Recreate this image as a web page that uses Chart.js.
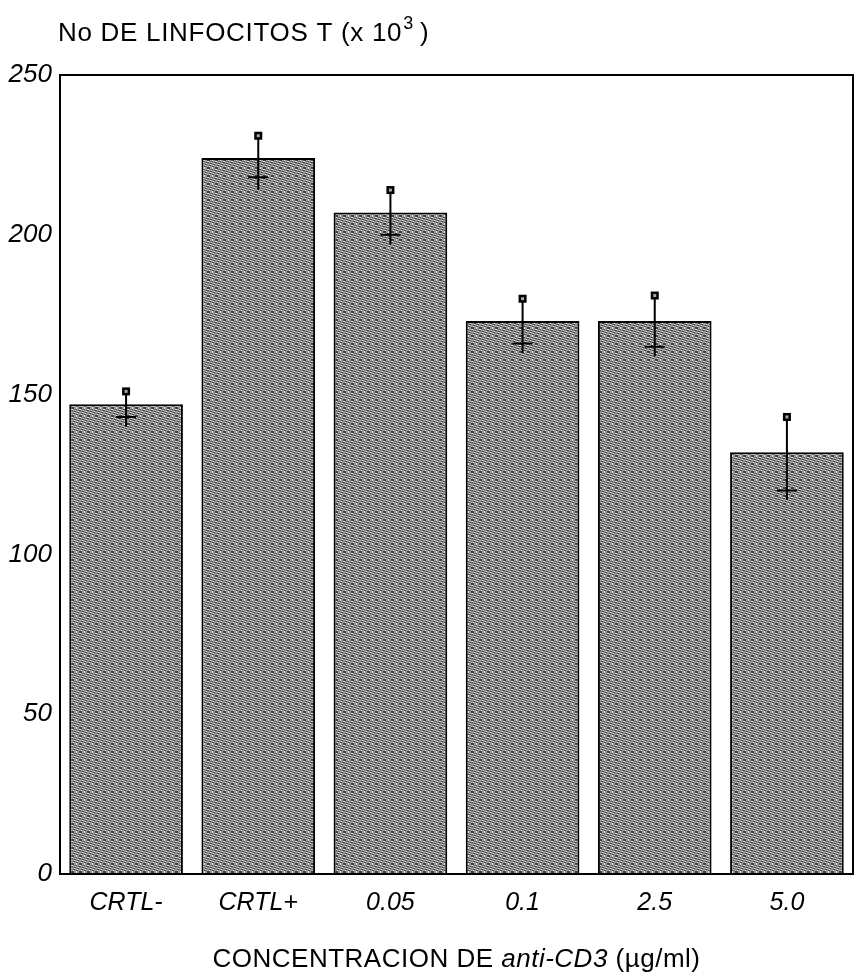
<!DOCTYPE html>
<html>
<head>
<meta charset="utf-8">
<script src="https://cdn.jsdelivr.net/npm/chart.js@4"></script>
<style>
  body { margin: 0; background: #fff; }
  canvas { display: block; }
</style>
</head>
<body>
<canvas id="linfocitos_chart" width="858" height="974"></canvas>
<script>
// valores (x 10^3)
var categorias = ['CRTL-', 'CRTL+', '0.05', '0.1', '2.5', '5.0'];
var linfocitos = [147, 224, 207, 173, 173, 132];
var error_sup = [151, 231, 214, 180, 181, 143];
var marca_cruz = [143, 218, 200, 166, 165, 120];
var error_inf = [140, 214, 197, 163, 162, 117];
var ticks_y = [0, 50, 100, 150, 200, 250];

var fuente = 'Arial, "Liberation Sans", sans-serif';

// textura gris tipo trama de impresion
function tramaGris() {
    var c = document.createElement('canvas');
    c.width = 8; c.height = 8;
    var g = c.getContext('2d');
    g.fillStyle = '#979797';
    g.fillRect(0, 0, 8, 8);
    for (var y = 0; y < 8; y++) {
        for (var x = 0; x < 8; x++) {
            var k = (x * 3 + y * 5) % 7;
            if (k === 0 || k === 3) { g.fillStyle = '#3c3c3c'; g.fillRect(x, y, 1, 1); }
            else if (k === 5) { g.fillStyle = '#eaeaea'; g.fillRect(x, y, 1, 1); }
        }
    }
    return g.createPattern(c, 'repeat');
}

const marcoYTextos = {
    id: 'marcoYTextos',
    afterDraw(chart) {
        const ctx = chart.ctx;
        const a = chart.chartArea;
        ctx.save();
        ctx.strokeStyle = '#000';
        ctx.lineWidth = 2;
        ctx.strokeRect(a.left, a.top, a.right - a.left, a.bottom - a.top);

        // titulo superior con superindice
        ctx.fillStyle = '#000';
        ctx.textBaseline = 'alphabetic';
        ctx.textAlign = 'left';
        ctx.letterSpacing = '0.7px';
        ctx.font = '26px ' + fuente;
        var t1 = 'No DE LINFOCITOS T (x 10';
        var x = a.left - 2;
        ctx.fillText(t1, x, 41);
        x += ctx.measureText(t1).width + 1;
        ctx.font = '18px ' + fuente;
        ctx.fillText('3', x, 29);
        x += ctx.measureText('3').width + 6;
        ctx.font = '26px ' + fuente;
        ctx.fillText(')', x, 41);

        // titulo eje x con parte en cursiva
        ctx.letterSpacing = '0.5px';
        var partes = [
            ['CONCENTRACION DE ', '26px ' + fuente],
            ['anti-CD3', 'italic 26px ' + fuente],
            [' (\u00b5g/ml)', '26px ' + fuente]
        ];
        var total = 0;
        partes.forEach(function (p) { ctx.font = p[1]; total += ctx.measureText(p[0]).width; });
        var px = (a.left + a.right) / 2 - total / 2;
        partes.forEach(function (p) {
            ctx.font = p[1];
            ctx.fillText(p[0], px, 967);
            px += ctx.measureText(p[0]).width;
        });
        ctx.restore();
    }
};

const barrasError = {
    id: 'barrasError',
    afterDatasetsDraw(chart) {
        const ctx = chart.ctx;
        const yScale = chart.scales.y;
        const meta = chart.getDatasetMeta(0);
        ctx.save();
        ctx.strokeStyle = '#000';
        ctx.lineWidth = 2;
        meta.data.forEach(function (bar, i) {
            var cx = bar.x;
            var yTop = yScale.getPixelForValue(error_sup[i]);
            var yLow = yScale.getPixelForValue(error_inf[i]);
            var yCruz = yScale.getPixelForValue(marca_cruz[i]);
            ctx.beginPath();
            ctx.moveTo(cx, yTop);
            ctx.lineTo(cx, yLow);
            ctx.moveTo(cx - 10, yCruz);
            ctx.lineTo(cx + 10, yCruz);
            ctx.stroke();
            ctx.fillStyle = '#000';
            ctx.fillRect(cx - 4, yTop - 4, 8, 8);
            ctx.fillStyle = '#aaa';
            ctx.fillRect(cx - 1.5, yTop - 1.5, 3, 3);
        });
        ctx.restore();
    }
};

const data = {
    labels: categorias,
    datasets: [{
        label: 'No DE LINFOCITOS T',
        data: linfocitos,
        backgroundColor: tramaGris(),
        borderColor: '#000',
        borderWidth: 2,
        barPercentage: 0.86,
        categoryPercentage: 1.0
    }]
};

const config = {
    type: 'bar',
    data: data,
    options: {
        responsive: false,
        animation: false,
        layout: {
            padding: { top: 75, right: 5, left: 0, bottom: 0 }
        },
        plugins: {
            legend: { display: false },
            title: { display: false },
            tooltip: { enabled: false }
        },
        scales: {
            x: {
                grid: { display: false, drawTicks: false },
                border: { display: false },
                ticks: {
                    color: '#000',
                    padding: 14,
                    font: { family: fuente, size: 25, style: 'italic' }
                },
                afterFit: function (scale) { scale.height = 100; }
            },
            y: {
                min: 0,
                max: 250,
                afterBuildTicks: function (scale) {
                    scale.ticks = ticks_y.map(function (v) { return { value: v }; });
                },
                grid: { display: false, drawTicks: false },
                border: { display: false },
                ticks: {
                    color: '#000',
                    padding: 8,
                    font: { family: fuente, size: 26, style: 'italic' }
                },
                afterFit: function (scale) { scale.width = 60; }
            }
        }
    },
    plugins: [barrasError, marcoYTextos]
};

const miGrafico = new Chart(document.getElementById('linfocitos_chart'), config);
</script>
</body>
</html>
